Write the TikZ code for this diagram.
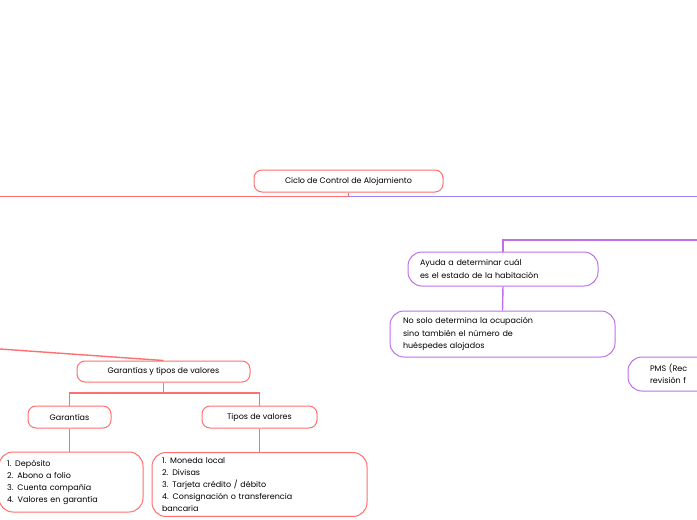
\documentclass[tikz,border=0pt]{standalone}
\usepackage{fontspec}
\setmainfont{Poppins}
\definecolor{redline}{HTML}{FF6F6F}
\definecolor{purpline}{HTML}{BF6FEA}
\definecolor{blueline}{HTML}{9C83F5}
\tikzset{rbox/.style={draw=redline,line width=1pt,rounded corners=8pt,inner sep=0pt,font=\fontsize{8}{12}\selectfont},
         pbox/.style={draw=purpline,line width=1pt,rounded corners=14pt,inner sep=0pt,font=\fontsize{8}{12.5}\selectfont},
         rlink/.style={color=redline,line width=1.4pt},
         plink/.style={color=purpline,line width=1.4pt}}
\begin{document}
\begin{tikzpicture}[x=1pt,y=-1pt,line width=1pt]
    \useasboundingbox (0,0) rectangle (697,520);
    \clip (0,0) rectangle (697,520);
    %root
    \node (ciclo) at (348.5,181)[rbox,minimum width=189pt,minimum height=22pt]{Ciclo de Control de Alojamiento};
    \coordinate (rootL) at (0,196.5);
    \coordinate (rootR) at (697,196.5);
    \draw [rlink] (ciclo.south) -- (348.5,196.5) -- (rootL);
    \draw [rlink,color=blueline] (348.5,196.5) -- (rootR);

    %purple branch
    \node (ayuda) at (503,269)[pbox,minimum width=190pt,minimum height=34pt,text width=166pt,align=left]{Ayuda a determinar cuál\\es el estado de la habitación};
    \node (nosolo) at (502.5,334)[pbox,minimum width=225pt,minimum height=46pt,text width=199pt,align=left]{No solo determina la ocupación\\sino también el número de\\huéspedes alojados};
    \node (pms) at (720,374)[pbox,minimum width=184pt,minimum height=34pt,text width=140pt,align=left]{PMS (Rec\\revisión f};
    \coordinate (pR) at (697,240);
    \draw [plink] (pR) -- (503,240) -- (ayuda.north);
    \draw [plink] (ayuda.south) -- (nosolo.north);

    %red branch
    \node (garval) at (163.5,371.5)[rbox,minimum width=173pt,minimum height=21pt]{Garantías y tipos de valores};
    \node (gar) at (69.5,417)[rbox,minimum width=83pt,minimum height=22pt]{Garantías};
    \node (tipos) at (259.5,417)[rbox,minimum width=115pt,minimum height=22pt]{Tipos de valores};
    \node (lista1) at (71,482)[rbox,rounded corners=14pt,minimum width=144pt,minimum height=60pt,text width=128pt,align=left]{1. Depósito\\2. Abono a folio\\3. Cuenta compañía\\4. Valores en garantía};
    \node (lista2) at (259.5,452)[rbox,rounded corners=14pt,anchor=north,minimum width=215pt,inner ysep=5pt,text width=195pt,align=left]{1. Moneda local\\2. Divisas\\3. Tarjeta crédito / débito\\4. Consignación o transferencia\\bancaria\\[6pt]};
    \coordinate (rL) at (0,349);
    \draw [rlink] (rL) -- (garval.north);
    \draw [rlink] (garval.south) -- (163.5,393) -| (gar.north);
    \draw [rlink] (163.5,393) -| (tipos.north);
    \draw [rlink] (gar.south) -- (gar.south |- lista1.north);
    \draw [rlink] (tipos.south) -- (lista2.north);
\end{tikzpicture}
\end{document}
